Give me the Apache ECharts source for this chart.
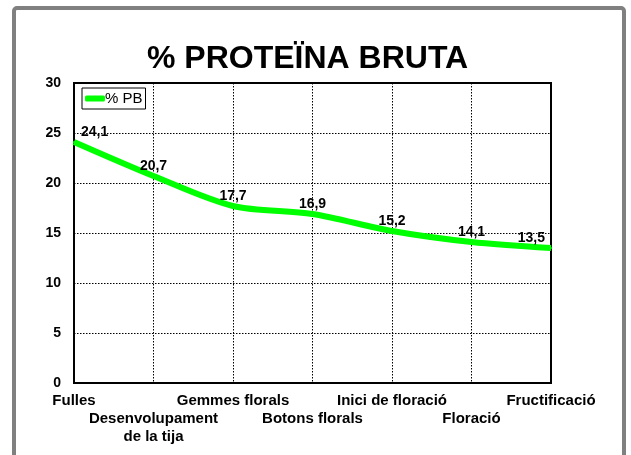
<!DOCTYPE html>
<html>
<head>
<meta charset="utf-8">
<script src="https://cdn.jsdelivr.net/npm/echarts@6/dist/echarts.min.js"></script>
<style>
html,body{margin:0;padding:0;background:#fff;}
#chart{width:631px;height:455px;}
</style>
</head>
<body>
<div id="chart"></div>
<script>
let stages=["Fulles","Desenvolupament\nde la tija","Gemmes florals","Botons florals","Inici de floració","Floració","Fructificació"];
let pb=[24.1,20.7,17.7,16.9,15.2,14.1,13.5];
let yTicks=[0,5,10,15,20,25,30];

let font="'Liberation Sans', Arial, sans-serif";
let myChart=echarts.init(document.getElementById("chart"));

// etiquetes: la primera a l'esquerra, l'ultima a la dreta
let points=pb.map(function(v,i){
    let item={value:v};
    if(i==0) item.label={align:"left",offset:[7,0]};
    if(i==pb.length-1) item.label={align:"right",offset:[-6,0]};
    return item;
});

let grid={color:"#000",type:[1.5,1.5],width:1};

let option={
    animation:false,
    backgroundColor:"#fff",
    graphic:[{
        type:"rect",
        shape:{x:14,y:8,width:610,height:470,r:3},
        style:{fill:"none",stroke:"#808080",lineWidth:4},
        z:-1
    }],
    title:{
        text:"% PROTEÏNA BRUTA",
        left:142,
        top:38,
        textStyle:{fontFamily:font,fontWeight:"bold",fontSize:32,color:"#000"}
    },
    legend:{
        left:82,
        top:88,
        padding:[3,3],
        borderColor:"#000",
        borderWidth:1,
        borderRadius:0,
        icon:"roundRect",
        itemWidth:20,
        itemHeight:6,
        itemGap:0,
        textStyle:{fontFamily:font,fontSize:15,color:"#000",padding:[0,0,0,-5]},
        data:["% PB"]
    },
    grid:{
        left:74,right:80,top:83,bottom:72,
        show:true,
        borderColor:"#000",
        borderWidth:2,
        backgroundColor:"#fff"
    },
    xAxis:{
        type:"category",
        data:stages,
        boundaryGap:false,
        axisLine:{lineStyle:{color:"#000",width:2}},
        axisTick:{show:false},
        splitLine:{show:true,lineStyle:grid},
        axisLabel:{
            interval:0,
            margin:9,
            fontFamily:font,
            fontWeight:"bold",
            fontSize:15,
            color:"#000",
            lineHeight:18,
            formatter:function(v,i){return i%2 ? "\n"+v : v;}
        }
    },
    yAxis:{
        type:"value",
        min:yTicks[0],
        max:yTicks[yTicks.length-1],
        interval:5,
        axisLine:{show:true,lineStyle:{color:"#000",width:2}},
        axisTick:{show:false},
        splitLine:{show:true,lineStyle:grid},
        axisLabel:{margin:13,fontFamily:font,fontWeight:"bold",fontSize:14,color:"#000"}
    },
    series:[{
        name:"% PB",
        type:"line",
        data:points,
        smooth:0.3,
        symbol:"circle",
        symbolSize:2,
        showSymbol:true,
        itemStyle:{color:"#00ff00"},
        lineStyle:{color:"#00ff00",width:6},
        label:{
            show:true,
            position:"top",
            distance:2,
            fontFamily:font,
            fontWeight:"bold",
            fontSize:14,
            color:"#000",
            formatter:function(p){return String(p.value).replace(".",",");}
        },
        z:3
    }]
};

myChart.setOption(option);
</script>
</body>
</html>
